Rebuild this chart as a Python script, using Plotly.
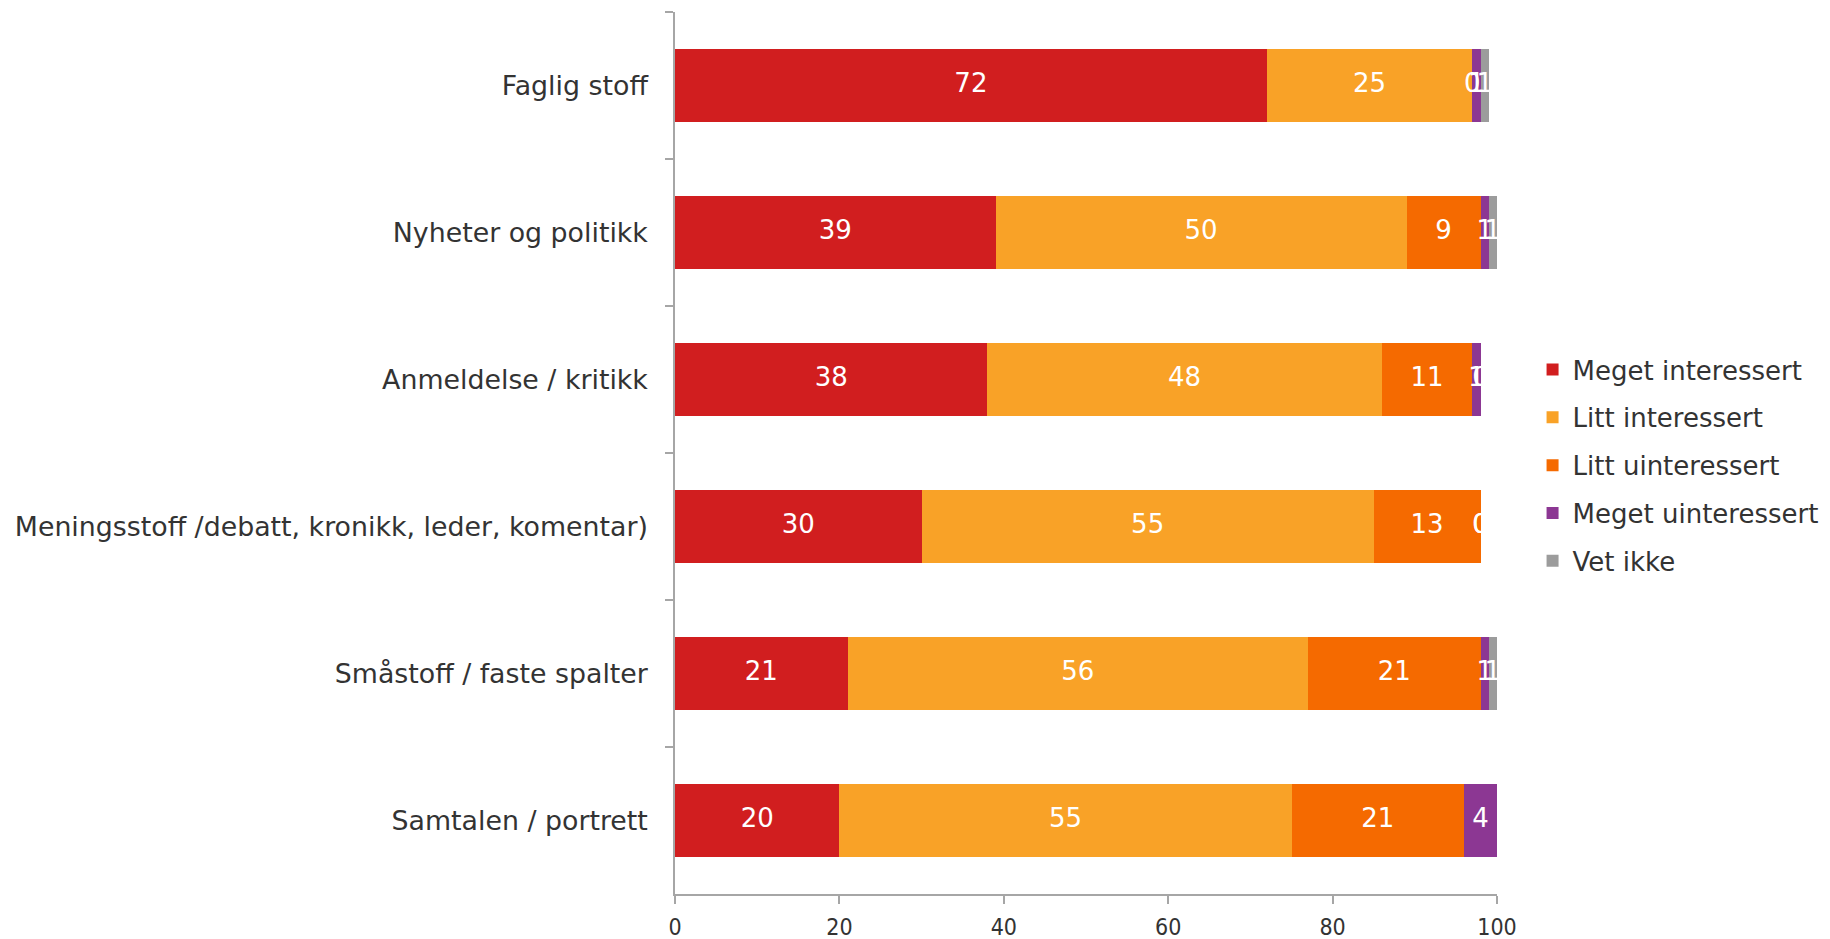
import plotly.graph_objects as go

# Survey categories (top to bottom)
categories = [
    "Faglig stoff",
    "Nyheter og politikk",
    "Anmeldelse / kritikk",
    "Meningsstoff /debatt, kronikk, leder, komentar)",
    "Småstoff / faste spalter",
    "Samtalen / portrett",
]

# Share of respondents (%) per answer
meget_interessert = [72, 39, 38, 30, 21, 20]
litt_interessert = [25, 50, 48, 55, 56, 55]
litt_uinteressert = [0, 9, 11, 13, 21, 21]
meget_uinteressert = [1, 1, 1, 0, 1, 4]
vet_ikke = [1, 1, 0, 0, 1, 0.3]

series_names = [
    "Meget interessert",
    "Litt interessert",
    "Litt uinteressert",
    "Meget uinteressert",
    "Vet ikke",
]
series_values = [meget_interessert, litt_interessert, litt_uinteressert,
                 meget_uinteressert, vet_ikke]
series_colors = ["#D11E1F", "#F9A227", "#F56A00", "#8C3793", "#9C9C9C"]

W, H = 1830, 939
x0_px, x1_px = 674.5, 1497.4
y0_px, y1_px = 11.7, 894.0

FONT = "DejaVu Sans, Verdana, sans-serif"

fig = go.Figure()

for name, vals, col in zip(series_names, series_values, series_colors):
    fig.add_trace(go.Bar(
        y=categories, x=vals, name=name, orientation="h",
        marker=dict(color=col, line=dict(width=0)),
        width=0.5, legendgroup=name, cliponaxis=False,
    ))

# Value labels centred in each segment (white text, may overflow like spreadsheet labels)
cum = [0.0] * len(categories)
for vals in series_values:
    mids = [c + v / 2 for c, v in zip(cum, vals)]
    fig.add_trace(go.Scatter(
        y=categories, x=mids, mode="text",
        text=[f"{v:.0f}" for v in vals],
        textfont=dict(family=FONT, size=26, color="white"),
        showlegend=False, hoverinfo="skip", cliponaxis=False,
    ))
    cum = [c + v for c, v in zip(cum, vals)]

fig.update_layout(
    width=W, height=H,
    barmode="stack",
    plot_bgcolor="white", paper_bgcolor="white",
    margin=dict(l=x0_px, r=W - x1_px, t=y0_px, b=H - y1_px, pad=0,
                autoexpand=False),
    font=dict(family=FONT, color="#333333"),
    legend=dict(
        x=(1533 - x0_px) / (x1_px - x0_px), xanchor="left",
        y=(y1_px - 465.5) / (y1_px - y0_px), yanchor="middle",
        font=dict(size=26, color="#333333"),
        traceorder="grouped", tracegroupgap=11,
        bgcolor="rgba(0,0,0,0)",
    ),
    showlegend=True,
)

fig.update_xaxes(
    range=[0, 100], tickvals=[0, 20, 40, 60, 80, 100],
    showgrid=False, zeroline=False, automargin=False,
    showline=True, linecolor="#A6A6A6", linewidth=1.5,
    ticks="outside", ticklen=8, tickcolor="#A6A6A6", tickwidth=1.5,
    ticklabelstandoff=4,
    tickfont=dict(family="DejaVu Sans Condensed, Arial Narrow, sans-serif",
                  size=23, color="#333333"),
)

fig.update_yaxes(
    categoryorder="array", categoryarray=categories, autorange="reversed",
    showgrid=False, zeroline=False, automargin=False,
    showline=True, linecolor="#A6A6A6", linewidth=1.5,
    ticks="outside", ticklen=8, tickcolor="#A6A6A6", tickwidth=1.5,
    tickson="boundaries", ticklabelstandoff=20,
    tickfont=dict(family=FONT, size=26.8, color="#333333"),
)

fig.write_html("out.html")
